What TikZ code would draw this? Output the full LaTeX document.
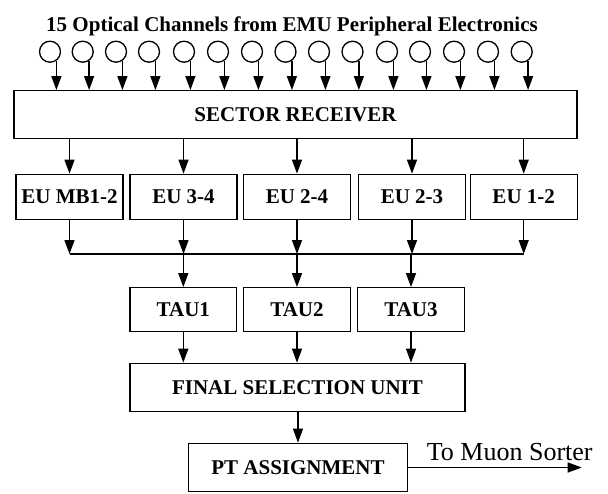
\documentclass[tikz,border=0pt]{standalone}
\usepackage{fontspec}
\setmainfont{Liberation Serif}
\usetikzlibrary{arrows.meta}
\begin{document}
\begin{tikzpicture}[x=1pt,y=-1pt,
  box/.style={draw,line width=1.3pt,inner sep=0pt,font=\fontsize{21}{25}\selectfont\bfseries},
  chan/.style={draw,circle,line width=1.3pt,minimum size=21pt,inner sep=0pt},
  arr/.style={line width=1.3pt,-{Triangle[length=14pt,width=10pt]}},
  ln/.style={line width=1.3pt}]
\useasboundingbox (0,0) rectangle (608,493);
\node[anchor=base,font=\fontsize{21}{25}\selectfont\bfseries] (title) at (292,31) {15 Optical Channels from EMU Peripheral Electronics};
\node[box,minimum width=563pt,minimum height=47.6pt] (sr) at (295.5,114.5) {SECTOR RECEIVER};
\foreach \i/\x in {1/50,2/82.7,3/116,4/149,5/184,6/218,7/252,8/285.5,9/319,10/352.5,11/387,12/420,13/454,14/488,15/521.7}{
  \node[chan] (c\i) at (\x,51.7) {};
  \draw[arr] (c\i.-55) -- (c\i.-55 |- sr.north);
}
\foreach \n/\x/\t in {1/69.5/EU MB1-2,2/183.5/EU 3-4,3/297/EU 2-4,4/412/EU 2-3,5/523.7/EU 1-2}{
  \node[box,minimum width=107pt,minimum height=45pt] (eu\n) at (\x,196.8) {\t};
  \draw[arr] (sr.south -| eu\n) -- (eu\n.north);
}
\coordinate (bus) at (0,254);
\foreach \n in {1,...,5}{
  \draw[arr] (eu\n.south) -- (eu\n.south |- bus);
}
\draw[ln] (bus -| eu1) -- (bus -| eu5);
\foreach \n/\x in {1/183.3,2/297,3/411}{
  \node[box,minimum width=106.7pt,minimum height=44pt] (tau\n) at (\x,309.7) {TAU\n};
}
\node[box,minimum width=335pt,minimum height=48.4pt] (fsu) at (297.5,387.5) {FINAL SELECTION UNIT};
\foreach \n in {1,2,3}{
  \draw[arr] (bus -| tau\n) -- (tau\n.north);
  \draw[arr] (tau\n.south) -- (tau\n.south |- fsu.north);
}
\node[box,minimum width=219.4pt,minimum height=48.4pt] (pt) at (298,467.5) {PT ASSIGNMENT};
\draw[arr] (fsu.south -| pt) -- (pt.north);
\coordinate (out) at (581.7,467.5);
\draw[arr] (pt.east) -- (out);
\node[anchor=base west,inner sep=0pt,font=\fontsize{26}{30}\selectfont] (lab) at (426.7,460) {To Muon Sorter};
\end{tikzpicture}
\end{document}
